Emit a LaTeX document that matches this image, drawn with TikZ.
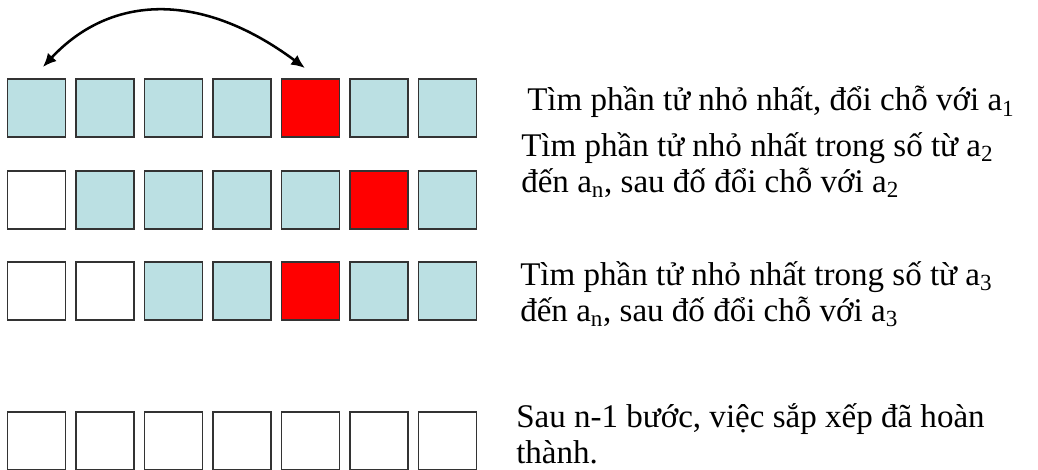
\documentclass[tikz,border=0pt]{standalone}
\usepackage{fontspec}
\setmainfont{Liberation Serif}
\usepackage{tikz}
\usetikzlibrary{arrows.meta}
\definecolor{cellblue}{RGB}{187,224,227}
\definecolor{cellred}{RGB}{255,0,0}
\definecolor{celledge}{RGB}{51,51,51}

\begin{document}
\begin{tikzpicture}[>=Latex,
  cell/.style={draw=celledge,line width=1.4pt,minimum width=1.45cm,minimum height=1.45cm,inner sep=0pt},
  note/.style={anchor=base west,inner sep=0pt,align=left,font=\fontsize{23.5pt}{25.2pt}\selectfont}]
\useasboundingbox (0,0) rectangle (25.95,-11.75);
% row 1
\node[cell,fill=cellblue] (a1) at (0.9125,-2.7) {};
\node[cell,fill=cellblue] (a2) at (2.625,-2.7) {};
\node[cell,fill=cellblue] (a3) at (4.3375,-2.7) {};
\node[cell,fill=cellblue] (a4) at (6.05,-2.7) {};
\node[cell,fill=cellred] (a5) at (7.7625,-2.7) {};
\node[cell,fill=cellblue] (a6) at (9.475,-2.7) {};
\node[cell,fill=cellblue] (a7) at (11.1875,-2.7) {};
% row 2
\node[cell,fill=white] (b1) at (0.9125,-5.0) {};
\node[cell,fill=cellblue] (b2) at (2.625,-5.0) {};
\node[cell,fill=cellblue] (b3) at (4.3375,-5.0) {};
\node[cell,fill=cellblue] (b4) at (6.05,-5.0) {};
\node[cell,fill=cellblue] (b5) at (7.7625,-5.0) {};
\node[cell,fill=cellred] (b6) at (9.475,-5.0) {};
\node[cell,fill=cellblue] (b7) at (11.1875,-5.0) {};
% row 3
\node[cell,fill=white] (c1) at (0.9125,-7.275) {};
\node[cell,fill=white] (c2) at (2.625,-7.275) {};
\node[cell,fill=cellblue] (c3) at (4.3375,-7.275) {};
\node[cell,fill=cellblue] (c4) at (6.05,-7.275) {};
\node[cell,fill=cellred] (c5) at (7.7625,-7.275) {};
\node[cell,fill=cellblue] (c6) at (9.475,-7.275) {};
\node[cell,fill=cellblue] (c7) at (11.1875,-7.275) {};
% row 4
\node[cell,fill=white] (d1) at (0.9125,-11.025) {};
\node[cell,fill=white] (d2) at (2.625,-11.025) {};
\node[cell,fill=white] (d3) at (4.3375,-11.025) {};
\node[cell,fill=white] (d4) at (6.05,-11.025) {};
\node[cell,fill=white] (d5) at (7.7625,-11.025) {};
\node[cell,fill=white] (d6) at (9.475,-11.025) {};
\node[cell,fill=white] (d7) at (11.1875,-11.025) {};
% swap arrow
\draw[line width=1.8pt,{Latex[length=3.4mm,width=3mm]}-{Latex[length=3.4mm,width=3mm]}] ([xshift=1.6mm,yshift=2.75mm]a1.north) .. controls (2.75,0.125) and (5.0,0.25) .. ([xshift=-1.4mm,yshift=2.5mm]a5.north);
% notes
\node[note] (note1) at (13.175,-2.775) {Tìm phần tử nhỏ nhất, đổi chỗ với a\textsubscript{1}};
\node[note] (note2) at (13.025,-4.8) {Tìm phần tử nhỏ nhất trong số từ a\textsubscript{2}\\đến a\textsubscript{n}, sau đố đổi chỗ với a\textsubscript{2}};
\node[note] (note3) at (13.0,-8.025) {Tìm phần tử nhỏ nhất trong số từ a\textsubscript{3}\\đến a\textsubscript{n}, sau đố đổi chỗ với a\textsubscript{3}};
\node[note] (note4) at (12.9,-11.575) {Sau n-1 bước, việc sắp xếp đã hoàn\\thành.};
\end{tikzpicture}
\end{document}
